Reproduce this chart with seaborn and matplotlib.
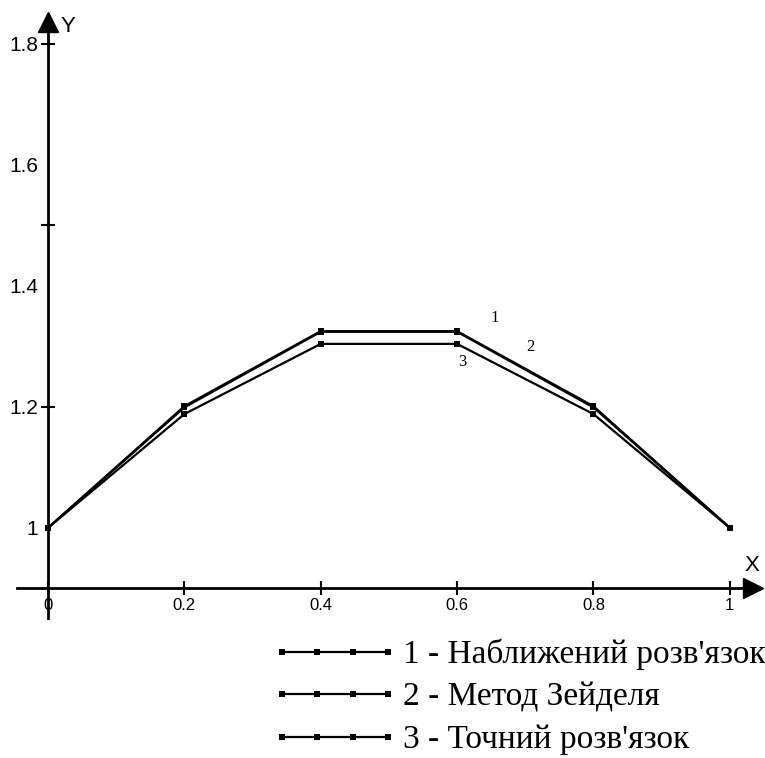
import numpy as np
import pandas as pd
import matplotlib
matplotlib.use('Agg')
import matplotlib.pyplot as plt
import matplotlib.transforms as mtransforms
import seaborn as sns

# data
x_vals = [0, 0.2, 0.4, 0.6, 0.8, 1.0]
approx_sol = [1.0, 1.201, 1.325, 1.325, 1.201, 1.0]   # 1 - Наближений розв'язок
seidel_sol = [1.0, 1.199, 1.324, 1.324, 1.199, 1.0]   # 2 - Метод Зейделя
exact_sol = [1.0, 1.188, 1.304, 1.304, 1.188, 1.0]    # 3 - Точний розв'язок
series_names = ["1 - Наближений розв'язок", "2 - Метод Зейделя", "3 - Точний розв'язок"]
x_ticks = [0, 0.2, 0.4, 0.6, 0.8, 1]
x_tick_labels = ['0', '0.2', '0.4', '0.6', '0.8', '1']
y_ticks = [1, 1.2, 1.4, 1.6, 1.8]
y_tick_labels = ['1', '1.2', '1.4', '1.6', '1.8']
y_minor = [1.2, 1.5, 1.8]

sns.set_style('white')
plt.rcParams['font.family'] = ['Liberation Sans', 'DejaVu Sans']
plt.rcParams['text.color'] = 'black'
plt.rcParams['xtick.color'] = 'black'
plt.rcParams['ytick.color'] = 'black'

fig = plt.figure(figsize=(7.65, 7.58), dpi=100)
ax = fig.add_axes([0.0222, 0.1847, 0.9621, 0.7863])

df = pd.DataFrame({
    'x': x_vals * 3,
    'y': approx_sol + seidel_sol + exact_sol,
    'series': [series_names[0]] * 6 + [series_names[1]] * 6 + [series_names[2]] * 6,
})

for name in series_names:
    sub = df[df['series'] == name]
    sns.lineplot(data=sub, x='x', y='y', ax=ax, color='black', linewidth=1.6,
                 marker='s', markersize=5, markeredgewidth=0, label=name,
                 sort=False, legend=False)

# axes limits and cross-shaped axis lines
ax.set_xlim(-0.0455, 1.034)
ax.set_ylim(0.851, 1.836)
for side in ['top', 'right']:
    ax.spines[side].set_visible(False)
ax.spines['left'].set_position(('data', 0))
ax.spines['bottom'].set_position(('data', 0.9))
for side in ['left', 'bottom']:
    ax.spines[side].set_linewidth(2)
    ax.spines[side].set_color('black')

# arrow heads
ax.plot(0, 1, marker='^', color='black', markersize=14,
        transform=ax.get_xaxis_transform(), clip_on=False)
ax.plot(1, 0.9, marker='>', color='black', markersize=14, clip_on=False,
        transform=mtransforms.blended_transform_factory(ax.transAxes, ax.transData))

ax.text(0.018, 1.828, 'Y', fontsize=16, ha='left', va='center')
ax.text(1.032, 0.937, 'X', fontsize=16, ha='center', va='center')

# ticks
ax.tick_params(left=True, bottom=True)
ax.set_xticks(x_ticks)
ax.set_xticklabels(x_tick_labels, fontsize=12)
ax.tick_params(axis='x', direction='inout', length=10, width=1.5, pad=2)
ax.yaxis.remove_overlapping_locs = False
ax.set_yticks(y_ticks)
ax.set_yticklabels(y_tick_labels, fontsize=15)
ax.set_yticks(y_minor, minor=True)
ax.tick_params(axis='y', which='major', length=0, pad=7)
ax.tick_params(axis='y', which='minor', left=True, direction='inout', length=10, width=1.5)
ax.set_xlabel('')
ax.set_ylabel('')

# curve numbers
serif = ['Liberation Serif', 'DejaVu Serif']
ax.text(0.655, 1.347, '1', fontsize=12, family=serif, ha='center', va='center')
ax.text(0.707, 1.299, '2', fontsize=12, family=serif, ha='center', va='center')
ax.text(0.608, 1.274, '3', fontsize=12, family=serif, ha='center', va='center')

# legend below the plot
handles = ax.lines[:3]
leg = fig.legend(handles, series_names, loc='upper left', bbox_to_anchor=(0.3556, 0.157),
                 frameon=False, numpoints=4, handlelength=3.78, handletextpad=0.15,
                 labelspacing=0.36, borderpad=0, borderaxespad=0,
                 prop={'family': serif, 'size': 24})
for h in leg.legend_handles:
    h.set_markersize(4)
    h.set_linewidth(1.6)

fig.savefig('out.png', dpi=100)
